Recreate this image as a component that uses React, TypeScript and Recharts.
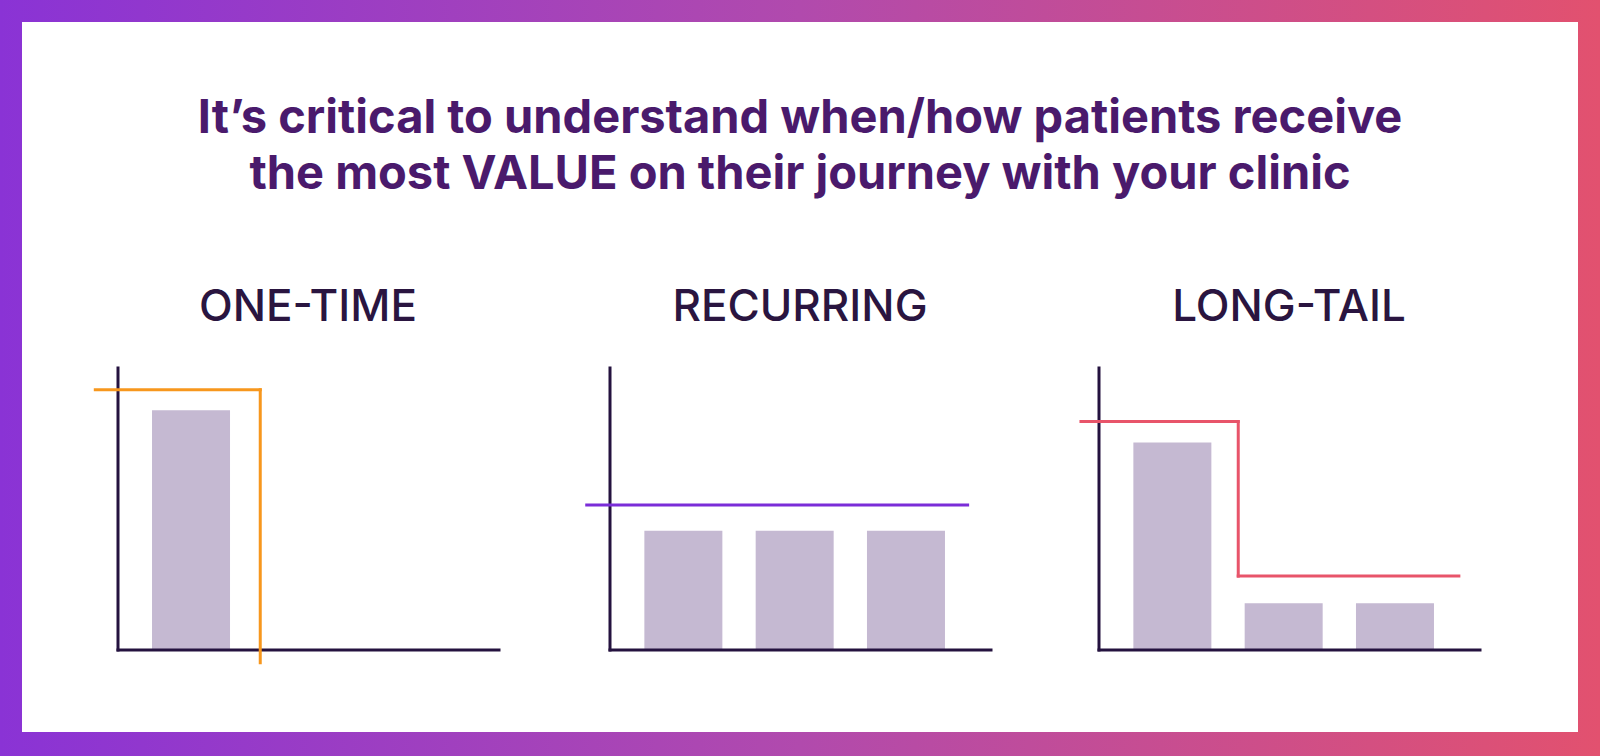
import React from "react";
import { ComposedChart, Bar, XAxis, YAxis, ReferenceLine } from "recharts";

// ---- data ----
const TITLE_LINES = [
  "It’s critical to understand when/how patients receive",
  "the most VALUE on their journey with your clinic",
];
const CHART_TITLES = ["ONE-TIME", "RECURRING", "LONG-TAIL"];

// bars: x = visit index, v = value received
const ONE_TIME_BARS = [{ x: 1, v: 85 }];
const RECURRING_BARS = [
  { x: 1, v: 42.3 },
  { x: 2, v: 42.3 },
  { x: 3, v: 42.3 },
];
const LONG_TAIL_BARS = [
  { x: 1, v: 73.6 },
  { x: 2, v: 16.6 },
  { x: 3, v: 16.6 },
];

// value outline (step line corner points)
const ONE_TIME_LINE = [
  { x: 0.14, y: 92.3 },
  { x: 1.622, y: 92.3 },
  { x: 1.622, y: -4.5 },
];
const RECURRING_LINE = [
  { x: 0.135, y: 51.4 },
  { x: 3.557, y: 51.4 },
];
const LONG_TAIL_LINE = [
  { x: 0.182, y: 81 },
  { x: 1.595, y: 81 },
  { x: 1.595, y: 26.2 },
  { x: 3.577, y: 26.2 },
];

const X_DOMAIN: [number, number] = [0.344, 3.767];
const Y_DOMAIN: [number, number] = [0, 100];

const AXIS_COLOR = "#24123f";
const BAR_COLOR = "#c5b9d2";

type Pt = { x: number; y: number };

function MiniChart({
  bars,
  line,
  color,
  left,
}: {
  bars: { x: number; v: number }[];
  line: Pt[];
  color: string;
  left: number;
}) {
  const segs: [Pt, Pt][] = [];
  for (let i = 0; i < line.length - 1; i++) segs.push([line[i], line[i + 1]]);
  return (
    <div style={{ position: "absolute", left: left - 40, top: 340 }}>
      <ComposedChart
        width={440}
        height={350}
        data={bars}
        margin={{ top: 28, left: 40, right: 19, bottom: 40 }}
      >
        <XAxis dataKey="x" type="number" domain={X_DOMAIN} allowDataOverflow hide />
        <YAxis type="number" domain={Y_DOMAIN} allowDataOverflow hide />
        <Bar dataKey="v" fill={BAR_COLOR} barSize={78} isAnimationActive={false} />
        {/* axes */}
        <ReferenceLine
          segment={[
            { x: X_DOMAIN[0], y: Y_DOMAIN[0] },
            { x: X_DOMAIN[1], y: Y_DOMAIN[0] },
          ]}
          stroke={AXIS_COLOR}
          strokeWidth={3}
          strokeLinecap="square"
          ifOverflow="visible"
        />
        <ReferenceLine
          segment={[
            { x: X_DOMAIN[0], y: Y_DOMAIN[0] },
            { x: X_DOMAIN[0], y: Y_DOMAIN[1] },
          ]}
          stroke={AXIS_COLOR}
          strokeWidth={3}
          strokeLinecap="square"
          ifOverflow="visible"
        />
        {segs.map((s, i) => (
          <ReferenceLine
            key={i}
            segment={[s[0], s[1]]}
            stroke={color}
            strokeWidth={3}
            strokeLinecap="square"
            ifOverflow="visible"
          />
        ))}
      </ComposedChart>
    </div>
  );
}

export default function App() {
  const centers = [308, 800, 1289];
  const lefts = [117.7, 610, 1099];
  return (
    <div
      style={{
        position: "absolute",
        left: 0,
        top: 0,
        width: 1600,
        height: 756,
        background: "linear-gradient(90deg, #8a33d5 0%, #b14aad 50%, #e2516f 100%)",
        overflow: "hidden",
      }}
    >
      <div
        style={{
          position: "absolute",
          left: 22,
          top: 22,
          width: 1556,
          height: 710,
          background: "#ffffff",
        }}
      />
      <div
        style={{
          position: "absolute",
          left: 0,
          top: 88,
          width: 1600,
          textAlign: "center",
          fontFamily: "Inter, sans-serif",
          fontWeight: 700,
          fontSize: 47,
          lineHeight: "56px",
          color: "#4a1a6c",
        }}
      >
        {TITLE_LINES.map((t, i) => (
          <div key={i}>{t}</div>
        ))}
      </div>
      {CHART_TITLES.map((t, i) => (
        <div
          key={t}
          style={{
            position: "absolute",
            left: centers[i] - 200,
            width: 400,
            top: 280,
            textAlign: "center",
            fontFamily: "Inter, sans-serif",
            fontWeight: 500,
            fontSize: 44,
            lineHeight: "50px",
            color: "#2a1540",
          }}
        >
          {t}
        </div>
      ))}
      <MiniChart bars={ONE_TIME_BARS} line={ONE_TIME_LINE} color="#f7971d" left={lefts[0]} />
      <MiniChart bars={RECURRING_BARS} line={RECURRING_LINE} color="#7b2dd8" left={lefts[1]} />
      <MiniChart bars={LONG_TAIL_BARS} line={LONG_TAIL_LINE} color="#e8546a" left={lefts[2]} />
    </div>
  );
}
